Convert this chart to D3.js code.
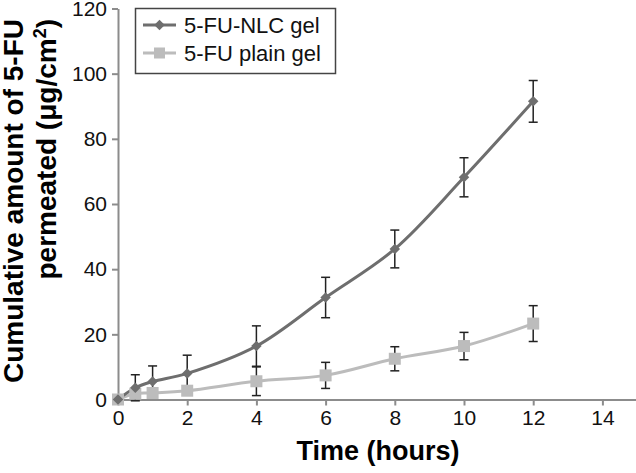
<!DOCTYPE html>
<html>
<head>
<meta charset="utf-8">
<script src="https://cdn.jsdelivr.net/npm/d3@7"></script>
<style>
  body { margin: 0; background: #fff; }
  text { font-family: "Liberation Sans", Arial, sans-serif; }
</style>
</head>
<body>
<script>
'use strict';

// data
let hours = [0, 0.5, 1, 2, 4, 6, 8, 10, 12];
let nlcGel = [0, 3.6, 5.5, 8.0, 16.4, 31.3, 46.2, 68.2, 91.5];
let nlcErr = [0, 4.0, 4.8, 5.6, 6.2, 6.2, 5.8, 6.0, 6.4];
let plainGel = [0, 1.8, 2.0, 2.7, 5.6, 7.4, 12.5, 16.4, 23.3];
let plainErr = [0, 0.8, 0.9, 1.0, 4.4, 4.0, 3.7, 4.2, 5.5];
let xTicks = [0, 2, 4, 6, 8, 10, 12, 14];
let yTicks = [0, 20, 40, 60, 80, 100, 120];
let seriesNames = ["5-FU-NLC gel", "5-FU plain gel"];

(function() {
  let width = 636, height = 473;

  let svg = d3.select('body')
    .append('svg')
    .attr('width', width)
    .attr('height', height);

  let xScale = d3.scaleLinear().domain([0, 15]).range([118, 637]);
  let yScale = d3.scaleLinear().domain([0, 120]).range([399.5, 8.5]);

  let axisColor = "#8c8c8c";
  let darkGray = "#6e6e6e";
  let lightGray = "#bcbcbc";

  // axes
  let xAxis = d3.axisBottom(xScale).tickValues(xTicks).tickSize(6).tickSizeOuter(0).tickPadding(5);
  let gx = svg.append('g')
    .attr('transform', 'translate(0,' + yScale(0) + ')')
    .call(xAxis);

  let yAxis = d3.axisLeft(yScale).tickValues(yTicks).tickSize(6).tickSizeOuter(0).tickPadding(5);
  let gy = svg.append('g')
    .attr('transform', 'translate(' + xScale(0) + ',0)')
    .call(yAxis);

  [gx, gy].forEach(function(g) {
    g.select('.domain').attr('stroke', axisColor).attr('stroke-width', 2);
    g.selectAll('.tick line').attr('stroke', axisColor).attr('stroke-width', 2);
    g.selectAll('.tick text')
      .attr('fill', '#111')
      .style('font-size', '21px')
      .style('font-family', '"Liberation Sans", Arial, sans-serif');
  });

  // build rows for each series
  let series = [
    { name: seriesNames[0], values: nlcGel, errs: nlcErr, color: darkGray, marker: 'diamond' },
    { name: seriesNames[1], values: plainGel, errs: plainErr, color: lightGray, marker: 'square' }
  ].map(function(s) {
    s.rows = hours.map(function(h, i) {
      return { t: h, v: s.values[i], e: s.errs[i] };
    });
    return s;
  });

  let line = d3.line()
    .x(function(d) { return xScale(d.t); })
    .y(function(d) { return yScale(d.v); })
    .curve(d3.curveCatmullRom.alpha(0.5));

  // draw plain gel first so the NLC line sits on top
  series.slice().reverse().forEach(function(s) {
    svg.append('path')
      .datum(s.rows)
      .attr('fill', 'none')
      .attr('stroke', s.color)
      .attr('stroke-width', 3)
      .attr('d', line);
  });

  // error bars
  series.forEach(function(s) {
    let bars = svg.append('g').selectAll('g')
      .data(s.rows.filter(function(d) { return d.e > 0; }))
      .enter()
      .append('g')
      .attr('stroke', '#222')
      .attr('stroke-width', 1.5);

    bars.append('line')
      .attr('x1', function(d) { return xScale(d.t); })
      .attr('x2', function(d) { return xScale(d.t); })
      .attr('y1', function(d) { return yScale(d.v + d.e); })
      .attr('y2', function(d) { return yScale(Math.max(0, d.v - d.e)); });

    [1, -1].forEach(function(sign) {
      bars.append('line')
        .attr('x1', function(d) { return xScale(d.t) - 4.5; })
        .attr('x2', function(d) { return xScale(d.t) + 4.5; })
        .attr('y1', function(d) { return yScale(d.v + sign * d.e); })
        .attr('y2', function(d) { return yScale(d.v + sign * d.e); });
    });
  });

  // markers
  let diamond = d3.symbol().type(d3.symbolDiamond2).size(70);
  series.slice().reverse().forEach(function(s) {
    let pts = svg.append('g').selectAll('.pt')
      .data(s.rows)
      .enter();
    if (s.marker === 'square') {
      pts.append('rect')
        .attr('x', function(d) { return xScale(d.t) - 6; })
        .attr('y', function(d) { return yScale(d.v) - 6; })
        .attr('width', 12)
        .attr('height', 12)
        .attr('fill', s.color);
    } else {
      pts.append('path')
        .attr('d', diamond)
        .attr('transform', function(d) { return 'translate(' + xScale(d.t) + ',' + yScale(d.v) + ')'; })
        .attr('fill', s.color);
    }
  });

  // legend
  let legend = svg.append('g');
  legend.append('rect')
    .attr('x', 135.5)
    .attr('y', 8.5)
    .attr('width', 200)
    .attr('height', 65)
    .attr('fill', '#fff')
    .attr('stroke', '#444')
    .attr('stroke-width', 1.5);

  series.forEach(function(s, i) {
    let cy = 25 + i * 28;
    legend.append('line')
      .attr('x1', 143).attr('x2', 176)
      .attr('y1', cy).attr('y2', cy)
      .attr('stroke', s.color)
      .attr('stroke-width', 3);
    if (s.marker === 'square') {
      legend.append('rect')
        .attr('x', 159.5 - 5.5).attr('y', cy - 5.5)
        .attr('width', 11).attr('height', 11)
        .attr('fill', s.color);
    } else {
      legend.append('path')
        .attr('d', diamond)
        .attr('transform', 'translate(159.5,' + cy + ')')
        .attr('fill', s.color);
    }
    legend.append('text')
      .attr('x', 184)
      .attr('y', cy + 8)
      .style('font-size', '22px')
      .attr('fill', '#111')
      .text(s.name);
  });

  // axis titles
  svg.append('text')
    .attr('x', 378)
    .attr('y', 460)
    .attr('text-anchor', 'middle')
    .style('font-size', '27px')
    .style('font-weight', 'bold')
    .attr('fill', '#000')
    .text('Time (hours)');

  let yTitle = svg.append('text')
    .attr('transform', 'translate(0,19)rotate(-90)')
    .attr('text-anchor', 'end')
    .style('font-size', '28px')
    .style('font-weight', 'bold')
    .attr('fill', '#000');

  yTitle.append('tspan')
    .attr('x', 0)
    .attr('y', 23)
    .text('Cumulative amount of 5-FU');

  yTitle.append('tspan')
    .attr('x', 0)
    .attr('y', 56)
    .text('permeated (\u03BCg/cm');
  yTitle.append('tspan')
    .attr('dy', -10)
    .style('font-size', '18px')
    .text('2');
  yTitle.append('tspan')
    .attr('dy', 10)
    .text(')');
})();
</script>
</body>
</html>
